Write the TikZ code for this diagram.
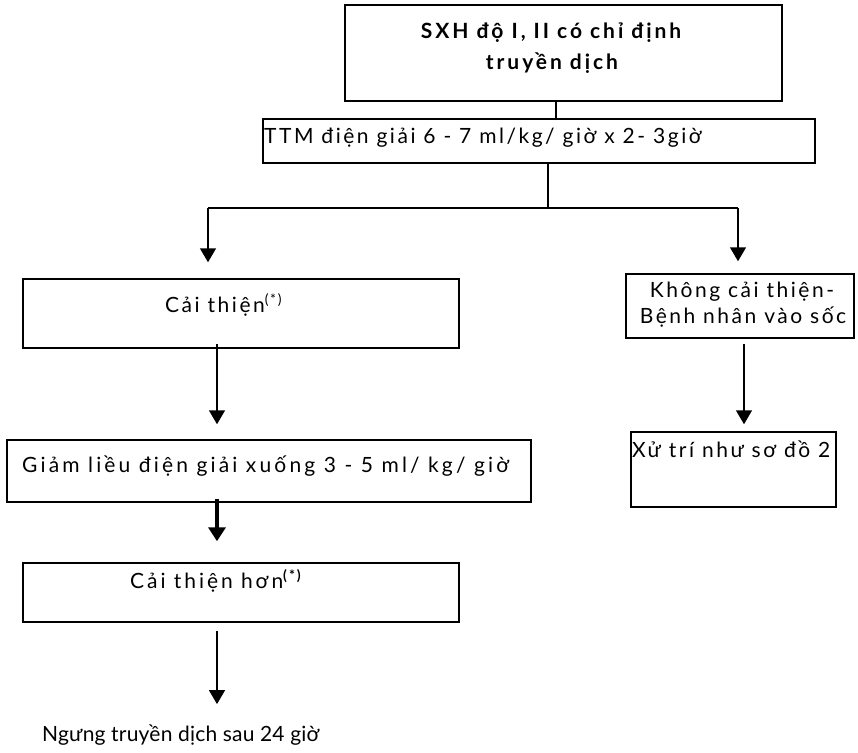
\documentclass[tikz,border=0pt]{standalone}
\usepackage{fontspec}
\setmainfont{Lato}[LetterSpace=12]
\usetikzlibrary{arrows.meta}
\begin{document}
\begin{tikzpicture}[x=1pt,y=-1pt,
  box/.style={draw, line width=1.5pt, inner sep=0pt},
  txt/.style={anchor=base west, inner sep=0pt, font=\fontsize{21}{25}\selectfont},
  ctxt/.style={anchor=base, inner sep=0pt, font=\fontsize{21}{25}\selectfont},
  conn/.style={line width=1.5pt},
  arr/.style={line width=1.5pt, -{Triangle[width=16pt,length=14pt]}},
  thickarr/.style={line width=4pt, -{Triangle[width=17pt,length=14pt]}}]
\useasboundingbox (0,0) rectangle (858,752);
% boxes
\node[box, minimum width=437pt, minimum height=96pt] (b1) at (563.5,53) {};
\node[box, minimum width=552pt, minimum height=44pt] (b2) at (539,141) {};
\node[box, minimum width=436pt, minimum height=69pt] (b3) at (241,313.5) {};
\node[box, minimum width=524pt, minimum height=62pt] (b4) at (269,471) {};
\node[box, minimum width=436pt, minimum height=59pt] (b5) at (241,592.5) {};
\node[box, minimum width=228pt, minimum height=64pt] (b7) at (740,306) {};
\node[box, minimum width=205pt, minimum height=75pt] (b8) at (733.5,469.5) {};
% texts
\node[ctxt, font=\fontsize{21}{25}\selectfont\bfseries\addfontfeature{LetterSpace=14}] (t1a) at (551,39) {SXH độ I, II có chỉ định};
\node[ctxt, font=\fontsize{21}{25}\selectfont\bfseries\addfontfeature{LetterSpace=14}] (t1b) at (552,69) {truyền dịch};
\node[txt] (t2) at (264,143) {TTM điện giải 6 - 7 ml/kg/ giờ x 2- 3giờ};
\node[txt] (t3) at (165,312) {Cải thiện{\fontsize{14}{15}\selectfont\raisebox{8pt}{(*)}}};
\node[txt, font=\fontsize{21}{25}\selectfont\addfontfeature{LetterSpace=15}] (t4) at (22,472) {Giảm liều điện giải xuống 3 - 5 ml/ kg/ giờ};
\node[txt, font=\fontsize{21}{25}\selectfont\addfontfeature{LetterSpace=14}] (t5) at (130,588) {Cải thiện hơn{\fontsize{14}{15}\selectfont\bfseries\raisebox{8pt}{(*)}}};
\node[txt, font=\fontsize{21}{25}\selectfont\addfontfeature{LetterSpace=1}] (t6) at (42,741) {Ngưng truyền dịch sau 24 giờ};
\node[ctxt] (t7a) at (742,297) {Không cải thiện-};
\node[ctxt] (t7b) at (743,323) {Bệnh nhân vào sốc};
\node[txt] (t8) at (632,457) {Xử trí như sơ đồ 2};
% connector coordinates
\coordinate (c1) at (556,0);
\coordinate (j) at (548,208);
\coordinate (jl) at (208,208);
\coordinate (jr) at (738,208);
\coordinate (cx) at (217,0);
\coordinate (rx) at (744,0);
% connectors
\draw[conn] (b1.south -| c1) -- (b2.north -| c1);
\draw[conn] (b2.south -| j) -- (j);
\draw[conn] (jl) -- (jr);
\draw[arr, shorten >=16pt] (jl) -- (jl |- b3.north);
\draw[arr, shorten >=12pt] (jr) -- (jr |- b7.north);
\draw[arr, shorten >=15pt] ([yshift=5pt]b3.south -| cx) -- (b4.north -| cx);
\draw[thickarr, shorten >=21pt] ([yshift=4pt]b4.south -| cx) -- (b5.north -| cx);
\draw[arr, shorten <=8pt, shorten >=20pt] (b5.south -| cx) -- (t6.north -| cx);
\draw[arr, shorten <=5pt, shorten >=7pt] (b7.south -| rx) -- (b8.north -| rx);
\end{tikzpicture}
\end{document}
